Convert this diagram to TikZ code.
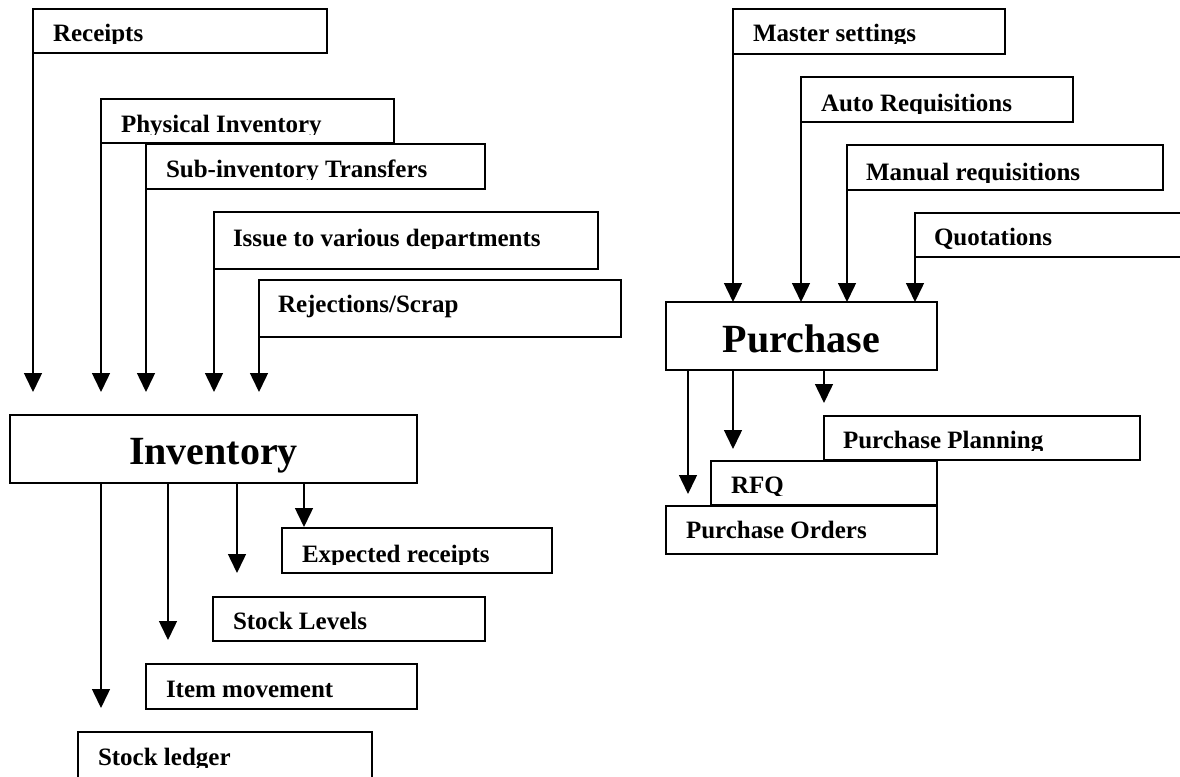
\documentclass[tikz,border=0pt]{standalone}
\usepackage{fontspec}
\setmainfont{Liberation Serif}
\usetikzlibrary{arrows.meta}
\tikzset{
  box/.style={draw, fill=white, line width=1.5pt, inner sep=0pt, outer sep=0pt, anchor=north west},
  lbl/.style={anchor=base west, inner sep=0pt, outer sep=0pt, font=\fontsize{25}{30}\selectfont\bfseries},
  big/.style={anchor=base, inner sep=0pt, outer sep=0pt, font=\fontsize{40}{48}\selectfont\bfseries},
  arr/.style={line width=1.5pt, -{Triangle[length=19pt,width=18pt]}},
}
\newcommand{\mybox}[5]{\node[box, minimum width=#4pt, minimum height=#5pt] (#1) at (#2,#3) {};}
\newcommand{\cliptxt}[5]{\begin{scope}\clip (#2-6,#3-40) rectangle (#2+600,#4); \node[lbl] (#1) at (#2,#3) {#5};\end{scope}}
\begin{document}
\begin{tikzpicture}[x=1pt,y=-1pt]
\useasboundingbox (0,0) rectangle (1180,776);
\clip (0,0) rectangle (1180,776);

% ---------- Inventory side ----------
\mybox{rec}{33}{9}{294}{44}
\cliptxt{trec}{53}{42}{44}{Receipts}
\mybox{phy}{101}{99}{293}{44}
\cliptxt{tphy}{121}{132}{134}{Physical Inventory}
\mybox{sub}{146}{144}{339}{45}
\cliptxt{tsub}{166}{177}{179}{Sub-inventory Transfers}
\mybox{iss}{214}{212}{384}{57}
\cliptxt{tiss}{233}{246}{248}{Issue to various departments}
\mybox{rej}{259}{280}{362}{57}
\node[lbl] (trej) at (278,312) {Rejections/Scrap};

\mybox{inv}{10}{415}{407}{68}
\node[big] (tinv) at (213.5,464) {Inventory};

\mybox{exp}{282}{528}{270}{45}
\cliptxt{texp}{302}{562}{564}{Expected receipts}
\mybox{stl}{213}{597}{272}{44}
\node[lbl] (tstl) at (233,629) {Stock Levels};
\mybox{itm}{146}{664}{271}{45}
\node[lbl] (titm) at (166,697) {Item movement};
\mybox{led}{78}{732}{294}{60}
\cliptxt{tled}{98}{765}{767}{Stock ledger}

\coordinate (inTop) at (0,392);
\foreach \n in {rec,phy,sub,iss,rej}{
  \draw[arr] (\n.south west) -- (\n.south west |- inTop);
}
\coordinate (o1) at (101,708);
\coordinate (o2) at (168,640);
\coordinate (o3) at (237,573);
\coordinate (o4) at (304,527);
\foreach \c in {o1,o2,o3,o4}{
  \draw[arr] (inv.south -| \c) -- (\c);
}

% ---------- Purchase side ----------
\mybox{mas}{733}{9}{272}{45}
\cliptxt{tmas}{753}{42}{44}{Master settings}
\mybox{aut}{801}{77}{272}{45}
\cliptxt{taut}{821}{111}{113}{Auto Requisitions}
\mybox{man}{847}{145}{316}{45}
\cliptxt{tman}{866}{180}{182}{Manual requisitions}
\mybox{quo}{915}{213}{300}{44}
\node[lbl] (tquo) at (934,245) {Quotations};

\mybox{pur}{666}{302}{271}{68}
\node[big] (tpur) at (801.5,352) {Purchase};

\mybox{ppl}{824}{416}{316}{44}
\cliptxt{tppl}{843}{448}{450}{Purchase Planning}
\mybox{rfq}{711}{461}{226}{44}
\cliptxt{trfq}{731}{493}{495}{RFQ}
\mybox{por}{666}{506}{271}{48}
\node[lbl] (tpor) at (686,538) {Purchase Orders};

\foreach \n in {mas,aut,man,quo}{
  \draw[arr] (\n.south west) -- (\n.south west |- pur.north);
}
\coordinate (p1) at (688,494);
\coordinate (p2) at (733,449);
\coordinate (p3) at (824,403);
\foreach \c in {p1,p2,p3}{
  \draw[arr] (pur.south -| \c) -- (\c);
}
\end{tikzpicture}
\end{document}
